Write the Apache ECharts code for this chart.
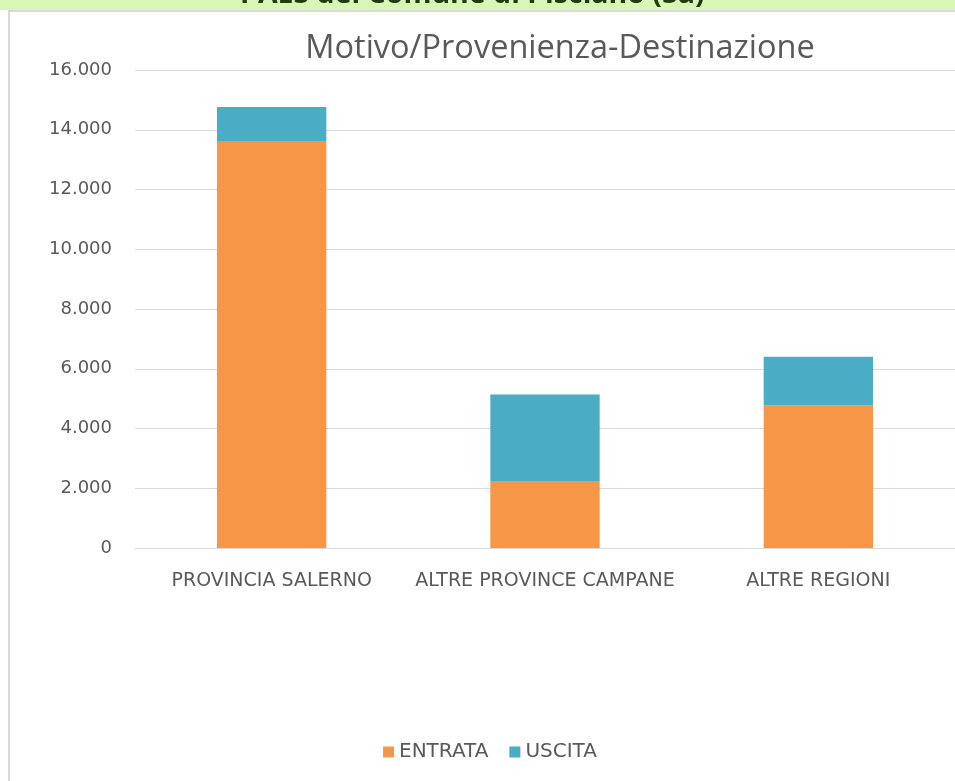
<!DOCTYPE html>
<html>
<head>
<meta charset="utf-8">
<script src="https://cdn.jsdelivr.net/npm/echarts@6/dist/echarts.min.js"></script>
<style>
html,body{margin:0;padding:0;background:#fff;}
#chart{width:955px;height:781px;}
</style>
</head>
<body>
<div id="chart"></div>
<script>
const categories = ['PROVINCIA SALERNO', 'ALTRE PROVINCE CAMPANE', 'ALTRE REGIONI'];
const entrata = [13600, 2240, 4770];
const uscita = [1160, 2900, 1630];
const bannerText = 'PAES del Comune di Pisciano (Sa)';
const chartTitle = 'Motivo/Provenienza-Destinazione';

const FONT = "'DejaVu Sans', sans-serif";
const chart = echarts.init(document.getElementById('chart'));
chart.setOption({
  animation: false,
  backgroundColor: '#ffffff',
  title: {
    text: chartTitle,
    left: 555, top: 27, textAlign: 'center',
    textStyle: { fontFamily: "'Open Sans', sans-serif", fontSize: 32.5, fontWeight: 'normal', color: '#595959' }
  },
  graphic: [
    { type: 'rect', shape: { x: 0, y: 0, width: 955, height: 10 }, style: { fill: '#d9f6b4' }, z: 10 },
    { type: 'text', left: 240, top: -20, style: { text: bannerText, font: "bold 28.5px 'Open Sans', sans-serif", fill: '#1e3d0c' }, z: 11 },
    { type: 'rect', shape: { x: 8, y: 10, width: 955, height: 2 }, style: { fill: '#d9d9d9' }, z: 10 },
    { type: 'rect', shape: { x: 8, y: 10, width: 2, height: 771 }, style: { fill: '#d9d9d9' }, z: 10 }
  ],
  legend: {
    data: ['ENTRATA', 'USCITA'],
    left: 378, top: 737,
    itemWidth: 11, itemHeight: 11, itemGap: 21,
    icon: 'rect',
    textStyle: { fontFamily: FONT, fontSize: 20, color: '#595959' }
  },
  grid: { left: 135, right: -4, top: 70, bottom: 233 },
  xAxis: {
    type: 'category',
    data: categories,
    axisLine: { lineStyle: { color: '#d9d9d9', width: 1 } },
    axisTick: { show: false },
    axisLabel: { interval: 0, fontFamily: FONT, fontSize: 19, color: '#595959', margin: 24 }
  },
  yAxis: {
    type: 'value',
    min: 0, max: 16000, interval: 2000,
    axisLine: { show: false },
    axisTick: { show: false },
    splitLine: { lineStyle: { color: '#d9d9d9', width: 1 } },
    axisLabel: {
      fontFamily: FONT, fontSize: 18, color: '#595959', margin: 23, padding: [4, 0, 0, 0],
      formatter: v => v === 0 ? '0' : v.toLocaleString('de-DE').replace(',', '.')
    }
  },
  series: [
    { name: 'ENTRATA', type: 'bar', stack: 't', data: entrata, barWidth: '40%',
      itemStyle: { color: '#f79646' } },
    { name: 'USCITA', type: 'bar', stack: 't', data: uscita, barWidth: '40%',
      itemStyle: { color: '#4bacc6' } }
  ]
});
</script>
</body>
</html>
